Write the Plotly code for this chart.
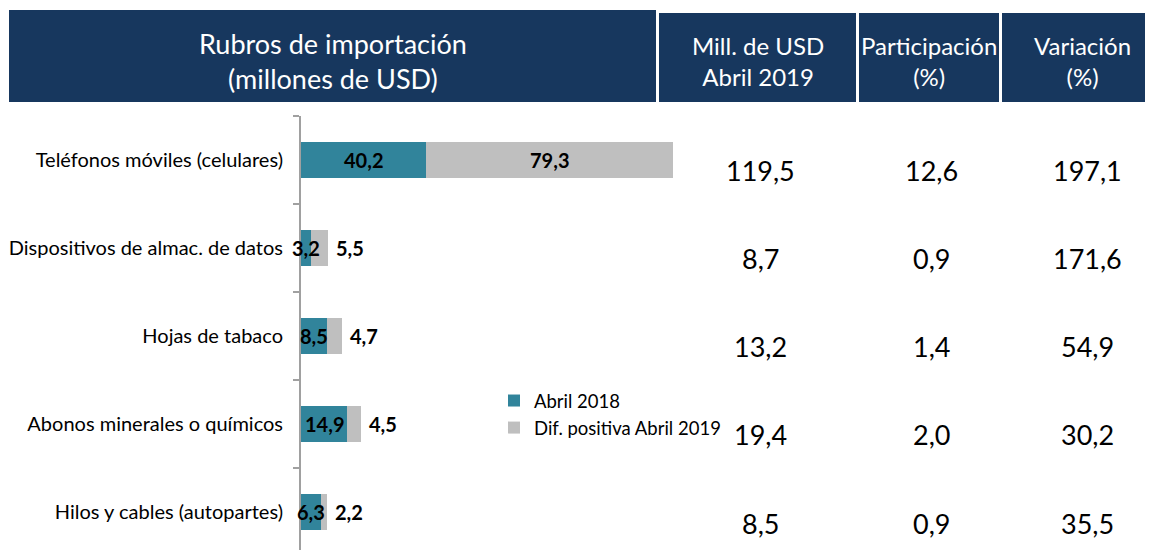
import plotly.graph_objects as go

categorias = ["Teléfonos móviles (celulares)", "Dispositivos de almac. de datos",
              "Hojas de tabaco", "Abonos minerales o químicos", "Hilos y cables (autopartes)"]
abril_2018 = [40.2, 3.2, 8.5, 14.9, 6.3]
dif_positiva = [79.3, 5.5, 4.7, 4.5, 2.2]
mill_usd_2019 = [119.5, 8.7, 13.2, 19.4, 8.5]
participacion = [12.6, 0.9, 1.4, 2.0, 0.9]
variacion = [197.1, 171.6, 54.9, 30.2, 35.5]

encabezados = ["Rubros de importación<br>(millones de USD)", "Mill. de USD<br>Abril 2019",
               "Participación<br>(%)", "Variación<br>(%)"]
series = ["Abril 2018", "Dif. positiva Abril 2019"]

NAVY = "#17375E"
TEAL = "#31849B"
GRAY = "#BFBFBF"
FONT = "Lato"
W, H = 1153, 550
OFF = 8  # page body margin offset


def px(x):
    return (x - OFF) / W


def py(y):
    return 1 - (y - OFF) / H


def fmt(v):
    return f"{v:.1f}".replace(".", ",")


fig = go.Figure()
fig.add_trace(go.Bar(y=categorias, x=abril_2018, orientation="h", name=series[0],
                     marker=dict(color=TEAL, line=dict(width=0)), hoverinfo="skip"))
fig.add_trace(go.Bar(y=categorias, x=dif_positiva, orientation="h", name=series[1],
                     marker=dict(color=GRAY, line=dict(width=0)), hoverinfo="skip"))

ann = []
lab_font = dict(family=FONT, size=20, color="black", weight="bold")
for i, c in enumerate(categorias):
    a, d = abril_2018[i], dif_positiva[i]
    ann.append(dict(x=a / 2, y=c, xref="x", yref="y", text=fmt(a), showarrow=False,
                    font=lab_font, xanchor="center", yanchor="middle"))
    if d > 20:
        ann.append(dict(x=a + d / 2, y=c, xref="x", yref="y", text=fmt(d), showarrow=False,
                        font=lab_font, xanchor="center", yanchor="middle"))
    else:
        ann.append(dict(x=a + d, y=c, xref="x", yref="y", text=fmt(d), showarrow=False,
                        font=lab_font, xanchor="left", yanchor="middle", xshift=6))

# table columns
col_x = [px(760), px(931), px(1087)]
num_font = dict(family=FONT, size=27, color="black")
for i, c in enumerate(categorias):
    for j, col in enumerate([mill_usd_2019, participacion, variacion]):
        ann.append(dict(x=col_x[j], y=c, xref="paper", yref="y", text=fmt(col[i]),
                        showarrow=False, font=num_font, xanchor="center", yanchor="middle",
                        yshift=-11))

# header boxes
boxes = [(9, 656, 10), (659, 856, 13), (859, 999, 13), (1002, 1161, 13)]
shapes = []
for (x0, x1, y0) in boxes:
    shapes.append(dict(type="rect", xref="paper", yref="paper", x0=px(x0), x1=px(x1),
                       y0=py(102), y1=py(y0), fillcolor=NAVY, line=dict(width=0),
                       layer="below"))
head_sizes = [27, 24, 24, 24]
for txt, cx, fs in zip(encabezados, [333, 758, 929, 1082], head_sizes):
    ann.append(dict(x=px(cx), y=py(61), xref="paper", yref="paper", text=txt,
                    showarrow=False, font=dict(family=FONT, size=fs, color="white"),
                    xanchor="center", yanchor="middle"))

# y range: bands of 88px, top boundary at y=116
band = 88
top_px = 116 - OFF
span = (H - top_px) / band
fig.update_layout(
    width=W, height=H,
    margin=dict(l=0, r=0, t=0, b=0),
    paper_bgcolor="white", plot_bgcolor="white",
    barmode="stack", bargap=0.6,
    showlegend=True,
    legend=dict(x=px(494), y=py(382), xanchor="left", yanchor="top",
                font=dict(family=FONT, size=18.5, color="black"),
                bgcolor="rgba(0,0,0,0)", borderwidth=0, itemwidth=30,
                traceorder="normal"),
    xaxis=dict(domain=[px(301), px(700)], range=[0, 399 / 3.113], visible=False,
               fixedrange=True),
    yaxis=dict(domain=[0, 1 - top_px / H], range=[-0.5 + span, -0.5], type="category",
               showline=True, linecolor="#A0A0A0", linewidth=2,
               ticks="outside", tickson="boundaries", ticklen=6, tickwidth=2,
               tickcolor="#A0A0A0", showgrid=False, zeroline=False,
               tickfont=dict(family=FONT, size=20, color="black"),
               ticklabelstandoff=12, fixedrange=True),
    annotations=ann,
    shapes=shapes,
)

fig.write_html("out.html")
